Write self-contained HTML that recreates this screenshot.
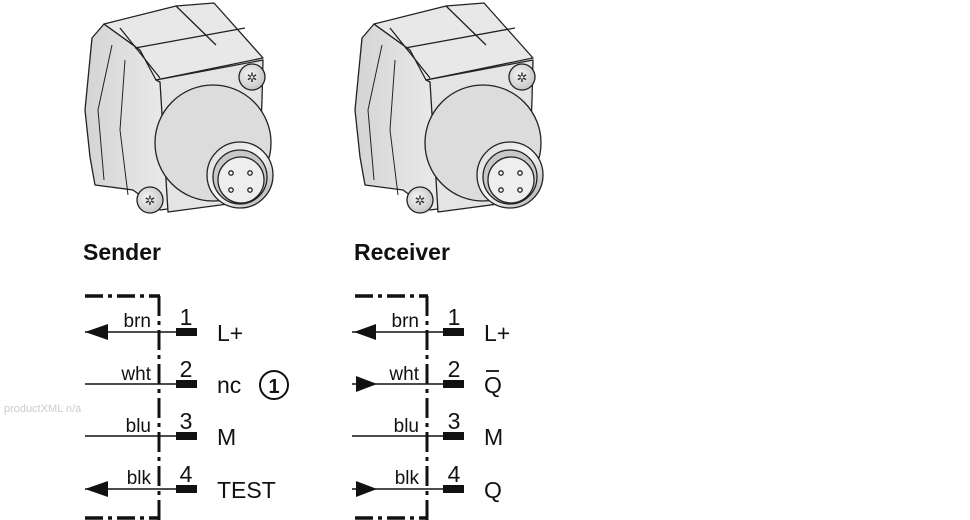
<!DOCTYPE html>
<html><head><meta charset="utf-8"><style>
html,body{margin:0;padding:0;background:#fff;}
svg{display:block;font-family:"Liberation Sans",Arial,sans-serif;}
</style></head><body>
<svg width="970" height="520" viewBox="0 0 970 520" xmlns="http://www.w3.org/2000/svg">
<defs>
<radialGradient id="g1" cx="0.4" cy="0.4" r="0.7"><stop offset="0" stop-color="#f4f4f4"/><stop offset="1" stop-color="#c0c0c0"/></radialGradient>
<linearGradient id="g2" x1="0" y1="0" x2="1" y2="1"><stop offset="0" stop-color="#d8d8d8"/><stop offset="0.5" stop-color="#f8f8f8"/><stop offset="1" stop-color="#a8a8a8"/></linearGradient>
<linearGradient id="g3" x1="0" y1="0" x2="1" y2="0"><stop offset="0" stop-color="#d4d4d4"/><stop offset="1" stop-color="#ececec"/></linearGradient>
<g id="dev" stroke="#222" stroke-width="1.3" stroke-linejoin="round">
  <path d="M104,24 L92,38 L85,110 L90,157 L95,185 L133,190 L160,210 L175,208 L160,82 L140,50 Z" fill="url(#g3)"/>
  <path d="M112,45 L98,110 L104,180 M125,60 L120,130 L128,195" fill="none" stroke-width="1"/>
  <path d="M104,24 L176,6 L214,3 L263,58 L156,80 L140,50 Z" fill="#e8e8e8"/>
  <path d="M135,48 L245,28 M120,28 L160,78 M176,6 L216,45" fill="none"/>
  <path d="M156,80 L263,60 L262,100 L258,200 L168,212 L160,82 Z" fill="#e4e4e4"/>
  <circle cx="213" cy="143" r="58" fill="#dcdcdc"/>
  <circle cx="240" cy="175" r="33" fill="url(#g2)"/>
  <circle cx="240" cy="177" r="27" fill="#c8c8c8"/>
  <circle cx="241" cy="180" r="23" fill="#eee"/>
  <circle cx="231" cy="173" r="2.2" fill="#fff"/><circle cx="250" cy="173" r="2.2" fill="#fff"/>
  <circle cx="231" cy="190" r="2.2" fill="#fff"/><circle cx="250" cy="190" r="2.2" fill="#fff"/>
  <circle cx="252" cy="77" r="13" fill="url(#g1)"/>
  <circle cx="150" cy="200" r="13" fill="url(#g1)"/>
  <text x="252" y="82" font-size="13" text-anchor="middle" stroke="none" fill="#333">✲</text>
  <text x="150" y="205" font-size="13" text-anchor="middle" stroke="none" fill="#333">✲</text>
</g>
</defs>
<use href="#dev"/>
<use href="#dev" x="270"/>

<text x="83" y="260" font-size="23" font-weight="bold" fill="#111">Sender</text>
<text x="354" y="260" font-size="23" font-weight="bold" fill="#111">Receiver</text>
<text x="4" y="412" font-size="11" fill="#ccc">productXML n/a</text>

<g stroke="#111" fill="none">
  <line x1="85" y1="296" x2="160" y2="296" stroke-width="3.5" stroke-dasharray="18,5,4,5"/>
  <line x1="159" y1="296" x2="159" y2="520" stroke-width="3" stroke-dasharray="20,5,4,5"/>
  <line x1="85" y1="518" x2="160" y2="518" stroke-width="3.5" stroke-dasharray="18,5,4,5"/>
  <line x1="355" y1="296" x2="428" y2="296" stroke-width="3.5" stroke-dasharray="18,5,4,5"/>
  <line x1="427" y1="296" x2="427" y2="520" stroke-width="3" stroke-dasharray="20,5,4,5"/>
  <line x1="355" y1="518" x2="428" y2="518" stroke-width="3.5" stroke-dasharray="18,5,4,5"/>
  <g stroke-width="1.6">
    <line x1="85" y1="332" x2="180" y2="332"/><line x1="85" y1="384" x2="180" y2="384"/>
    <line x1="85" y1="436" x2="180" y2="436"/><line x1="85" y1="489" x2="180" y2="489"/>
    <line x1="352" y1="332" x2="446" y2="332"/><line x1="352" y1="384" x2="446" y2="384"/>
    <line x1="352" y1="436" x2="446" y2="436"/><line x1="352" y1="489" x2="446" y2="489"/>
  </g>
</g>
<g fill="#111">
  <rect x="176" y="328" width="21" height="8"/><rect x="176" y="380" width="21" height="8"/>
  <rect x="176" y="432" width="21" height="8"/><rect x="176" y="485" width="21" height="8"/>
  <rect x="443" y="328" width="21" height="8"/><rect x="443" y="380" width="21" height="8"/>
  <rect x="443" y="432" width="21" height="8"/><rect x="443" y="485" width="21" height="8"/>
  <polygon points="85,332 108,324 108,340"/><polygon points="85,489 108,481 108,497"/>
  <polygon points="354,332 376,324 376,340"/>
  <polygon points="377,384 356,376 356,392"/><polygon points="377,489 356,481 356,497"/>
</g>
<g font-size="19" fill="#111" text-anchor="end">
  <text x="151" y="327">brn</text><text x="151" y="380">wht</text><text x="151" y="432">blu</text><text x="151" y="484">blk</text>
  <text x="419" y="327">brn</text><text x="419" y="380">wht</text><text x="419" y="432">blu</text><text x="419" y="484">blk</text>
</g>
<g font-size="23" fill="#111" text-anchor="middle">
  <text x="186" y="325">1</text><text x="186" y="377">2</text><text x="186" y="429">3</text><text x="186" y="482">4</text>
  <text x="454" y="325">1</text><text x="454" y="377">2</text><text x="454" y="429">3</text><text x="454" y="482">4</text>
</g>
<g font-size="23" fill="#111">
  <text x="217" y="341">L+</text><text x="217" y="393">nc</text><text x="217" y="445">M</text><text x="217" y="498">TEST</text>
  <text x="484" y="341">L+</text><text x="484" y="393">Q</text><text x="484" y="445">M</text><text x="484" y="498">Q</text>
</g>
<line x1="486" y1="371" x2="499" y2="371" stroke="#111" stroke-width="1.8"/>
<circle cx="274" cy="385" r="14" fill="none" stroke="#111" stroke-width="2"/>
<text x="274" y="393" font-size="20" font-weight="bold" text-anchor="middle" fill="#111">1</text>
</svg>
</body></html>
